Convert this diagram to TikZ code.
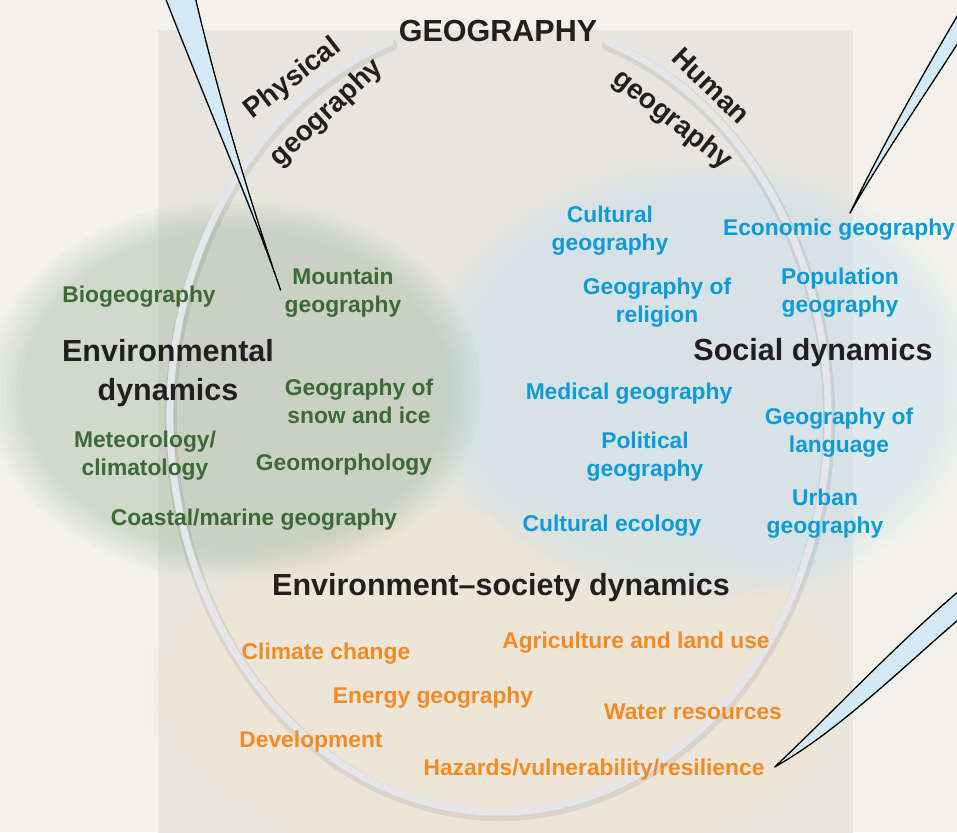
\documentclass[tikz,border=0pt]{standalone}
\usepackage{fontspec}
\setmainfont{Liberation Sans}
\usetikzlibrary{positioning, calc}

\definecolor{bgcream}{HTML}{F2F1EA}
\definecolor{panel}{HTML}{E7E6DE}
\definecolor{envgreen}{HTML}{3C6A37}
\definecolor{socblue}{HTML}{0D9BD7}
\definecolor{esorange}{HTML}{F28B23}
\definecolor{headblack}{HTML}{231F20}
\definecolor{blobgreen}{HTML}{7FA07A}
\definecolor{blobblue}{HTML}{BDE2F8}
\definecolor{blobpeach}{HTML}{F6E8D8}
\definecolor{ringgrey}{HTML}{E5E6E9}
\definecolor{calloutblue}{HTML}{D3E9F6}

\tikzset{
    item/.style={font=\bfseries\fontsize{22.8}{28}\selectfont, align=center, inner sep=0pt, yshift=-3pt},
    envitem/.style={item, text=envgreen},
    socitem/.style={item, text=socblue},
    esitem/.style={item, text=esorange},
    dyn/.style={font=\bfseries\fontsize{30.5}{39}\selectfont, align=center, inner sep=0pt, text=headblack, yshift=-3pt},
    branch/.style={font=\bfseries\fontsize{28}{30}\selectfont, inner sep=0pt, text=headblack},
    ring/.style={line width=7pt, ringgrey, line cap=round},
    ringshadow/.style={line width=12pt, black, opacity=0.08, line cap=round},
    callout/.style={draw=black, line width=1.3pt, fill=calloutblue, line join=round},
}

\begin{document}
\begin{tikzpicture}[x=1pt, y=-1pt]
    \useasboundingbox (0,0) rectangle (957,832);
    \fill[bgcream] (0,0) rectangle (957,832);
    \fill[panel] (158,30) rectangle (853,835);

    % soft blobs, stacked thin layers
    \foreach \k in {0,...,7} {
        \fill[blobpeach, fill opacity=0.1] (500,690) ellipse[x radius=355-5*\k, y radius=190-4*\k];
    }
    \foreach \k in {0,...,7} {
        \fill[blobgreen, fill opacity=0.034] (236,390) ellipse[x radius=250-5*\k, y radius=190-4*\k];
        \fill[blobblue, fill opacity=0.05] (700,383) ellipse[x radius=278-5*\k, y radius=220-4*\k];
    }

    \coordinate (ctr) at (499,416);
    \draw[ringshadow] ($(ctr)+(1,3)+(-70.8:329 and 396)$) arc[start angle=-70.8, end angle=250.7, x radius=329, y radius=396];
    \draw[ring] ($(ctr)+(-70.8:329 and 396)$) arc[start angle=-70.8, end angle=250.7, x radius=329, y radius=396];

    \node[dyn] (geo) at (498,28) {GEOGRAPHY};
    \node[branch, rotate=38] (phys) at (293,79) {Physical};
    \node[branch, rotate=43] (physgeo) at (327,113) {geography};
    \node[branch, rotate=-44] (human) at (711,86) {Human};
    \node[branch, rotate=-38] (humgeo) at (672,120) {geography};

    % environmental dynamics
    \node[dyn] (envdyn) at (168,370) {Environmental\\dynamics};
    \node[envitem] (biogeo) at (139,294) {Biogeography};
    \node[envitem] (mountain) at (343,290) {Mountain\\geography};
    \node[envitem] (snowice) at (359,398) {Geography of\\snow and ice};
    \node[envitem] (meteo) at (145,453) {Meteorology/\\climatology};
    \node[envitem] (geomorph) at (344,462) {Geomorphology};
    \node[envitem] (coastal) at (254,517) {Coastal/marine geography};

    % social dynamics
    \node[dyn] (socdyn) at (813,350) {Social dynamics};
    \node[socitem] (cultgeo) at (610,228) {Cultural\\geography};
    \node[socitem] (econ) at (839,227) {Economic geography};
    \node[socitem] (religion) at (657,300) {Geography of\\religion};
    \node[socitem] (popgeo) at (840,290) {Population\\geography};
    \node[socitem] (medical) at (629,391) {Medical geography};
    \node[socitem] (language) at (839,430) {Geography of\\language};
    \node[socitem] (political) at (645,454) {Political\\geography};
    \node[socitem] (urban) at (825,511) {Urban\\geography};
    \node[socitem] (cultecol) at (612,523) {Cultural ecology};

    % environment-society dynamics
    \node[dyn] (esdyn) at (501,585) {Environment--society dynamics};
    \node[esitem] (climate) at (326,651) {Climate change};
    \node[esitem] (agri) at (636,640) {Agriculture and land use};
    \node[esitem] (energy) at (433,695) {Energy geography};
    \node[esitem] (water) at (693,709) {Water resources};
    \node[esitem] (devel) at (311,739) {Development};
    \node[esitem] (hazards) at (594,767) {Hazards/vulnerability/resilience};

    % callouts
    \coordinate (tipA) at ($(mountain.west)+(-4,-3)$);
    \coordinate (tipB) at ($(econ.north)+(11,-6)$);
    \coordinate (tipC) at ($(hazards.east)+(10,-3)$);
    \coordinate (farA1) at (163,-8);
    \coordinate (farA2) at (194,-8);
    \coordinate (farB1) at (965,3);
    \coordinate (farB2) at (965,32);
    \coordinate (farC1) at (965,586);
    \coordinate (farC2) at (965,614);
    \draw[callout] (farA1) .. controls (215,125) and (255,215) .. (tipA)
        .. controls (258,225) and (220,105) .. (farA2) -- cycle;
    \draw[callout] (farB1) .. controls (925,70) and (880,150) .. (tipB)
        .. controls (880,160) and (925,95) .. (farB2) -- cycle;
    \draw[callout] (farC1) .. controls (900,640) and (830,715) .. (tipC)
        .. controls (840,730) and (905,665) .. (farC2) -- cycle;
\end{tikzpicture}
\end{document}
